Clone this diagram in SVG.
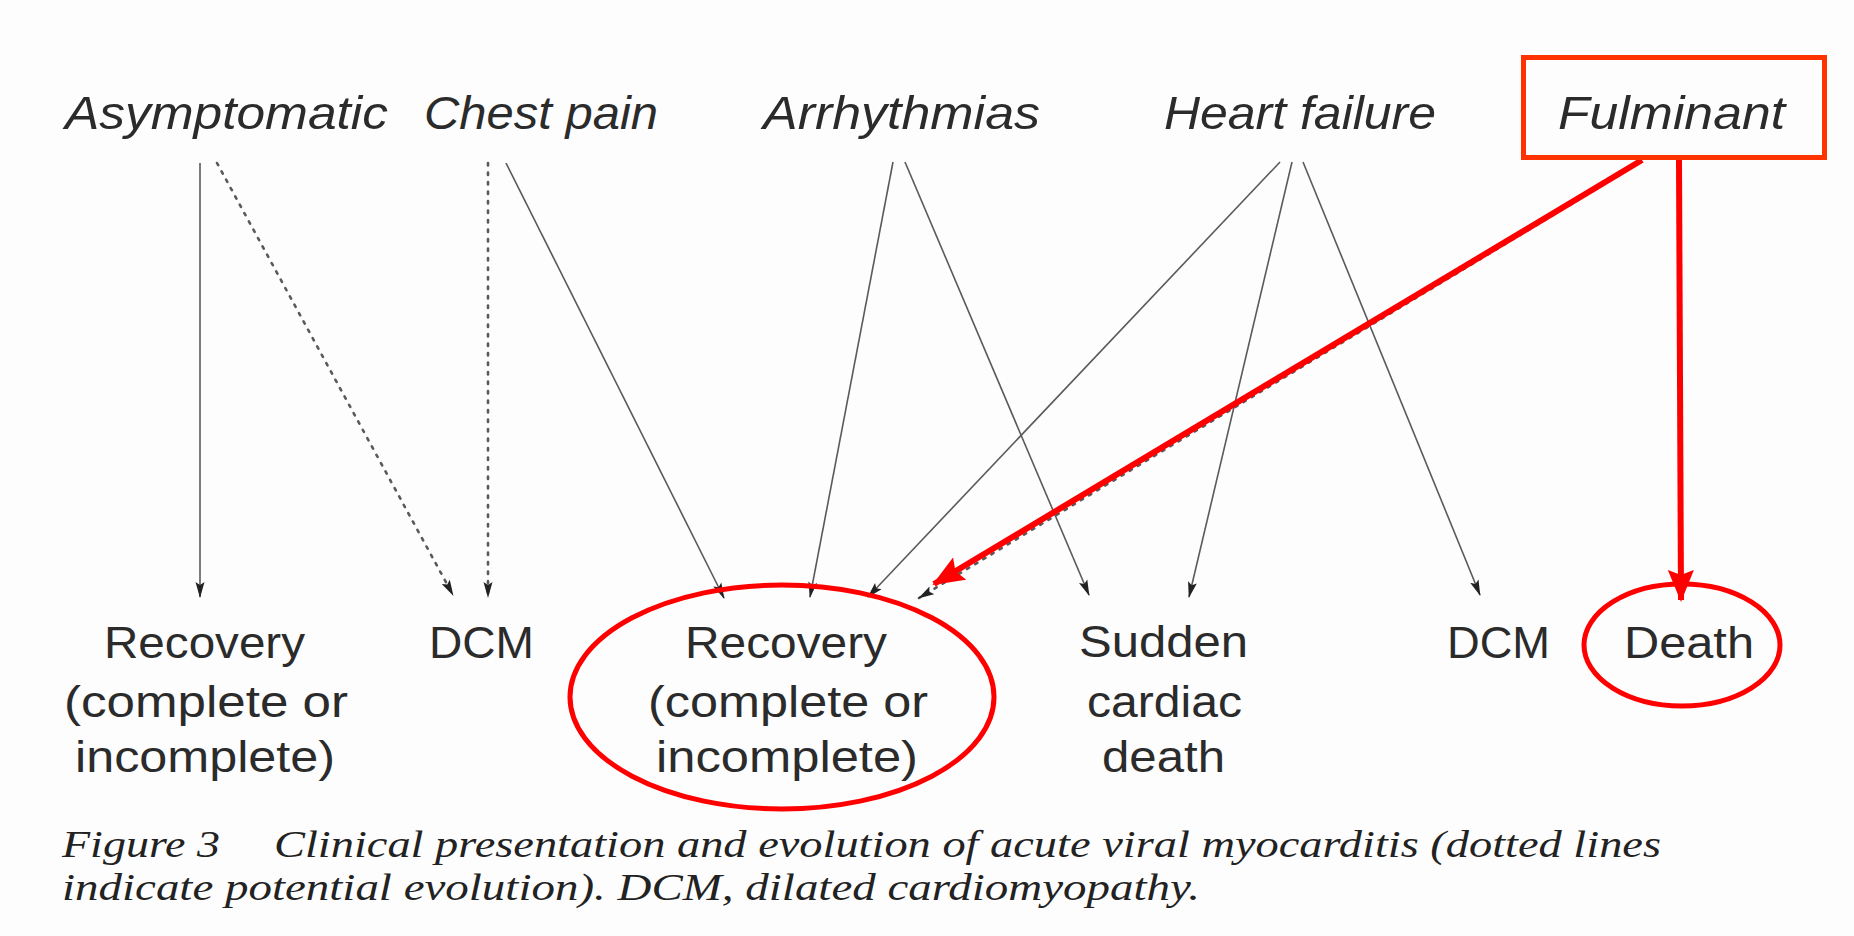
<svg xmlns="http://www.w3.org/2000/svg" width="1854" height="936" viewBox="0 0 1854 936">
  <style>
    .top { font-family: "Liberation Sans", Arial, sans-serif; font-style: italic; font-size: 47px; fill: #2b2b2b; }
    .bot { font-family: "Liberation Sans", Arial, sans-serif; font-size: 44px; fill: #2b2b2b; }
    .cap { font-family: "Liberation Serif", "Times New Roman", serif; font-style: italic; font-size: 38px; fill: #222; }
    .ln { stroke: #5a5a5a; stroke-width: 1.6; fill: none; marker-end: url(#ah); }
    .dot { stroke: #5a5a5a; stroke-width: 2.6; fill: none; stroke-dasharray: 2.5 7; stroke-linecap: round; marker-end: url(#ah); }
    .red { stroke: #ff0000; stroke-width: 6; fill: none; marker-end: url(#rah); }
  </style>
  <defs>
    <marker id="ah" markerUnits="userSpaceOnUse" markerWidth="16" markerHeight="10" refX="15" refY="5" orient="auto" viewBox="0 0 16 10">
      <path d="M0,0.5 L16,5 L0,9.5 L3,5 z" fill="#222"/>
    </marker>
    <marker id="rah" markerUnits="userSpaceOnUse" markerWidth="32" markerHeight="26" refX="30" refY="13" orient="auto" viewBox="0 0 32 26">
      <path d="M0,0 L32,13 L0,26 L5,13 z" fill="#ff0000"/>
    </marker>
  </defs>
  <rect width="1854" height="936" fill="#fdfdfd"/>

  <g id="connectors">
    <line class="ln" x1="200" y1="163" x2="200" y2="597"/>
    <line class="dot" x1="217" y1="163" x2="453" y2="595"/>
    <line class="dot" x1="488" y1="163" x2="488" y2="597"/>
    <line class="ln" x1="506" y1="163" x2="724" y2="598"/>
    <line class="ln" x1="893" y1="162" x2="810" y2="597"/>
    <line class="ln" x1="905" y1="162" x2="1089" y2="595"/>
    <line class="ln" x1="1280" y1="162" x2="868" y2="597"/>
    <line class="ln" x1="1292" y1="162" x2="1189" y2="597"/>
    <line class="ln" x1="1303" y1="162" x2="1480" y2="595"/>
    <line class="dot" x1="1636" y1="165" x2="919" y2="598"/>
    <line class="red" x1="1642" y1="160" x2="934" y2="584"/>
    <line class="red" x1="1679" y1="160" x2="1681" y2="600"/>
  </g>

  <g id="n-asymptomatic"><text class="top" x="65" y="129" textLength="323" lengthAdjust="spacingAndGlyphs">Asymptomatic</text></g>
  <g id="n-chestpain"><text class="top" x="424" y="129" textLength="234" lengthAdjust="spacingAndGlyphs">Chest pain</text></g>
  <g id="n-arrhythmias"><text class="top" x="763" y="129" textLength="277" lengthAdjust="spacingAndGlyphs">Arrhythmias</text></g>
  <g id="n-heartfailure"><text class="top" x="1164" y="129" textLength="272" lengthAdjust="spacingAndGlyphs">Heart failure</text></g>
  <g id="n-fulminant">
    <rect x="1523.5" y="57.5" width="301" height="100" fill="none" stroke="#ff3300" stroke-width="5"/>
    <text class="top" x="1558" y="129" textLength="227" lengthAdjust="spacingAndGlyphs">Fulminant</text>
  </g>

  <g id="n-recovery1">
    <text class="bot" x="104" y="658" textLength="201" lengthAdjust="spacingAndGlyphs">Recovery</text>
    <text class="bot" x="64" y="717" textLength="284" lengthAdjust="spacingAndGlyphs">(complete or</text>
    <text class="bot" x="75" y="772" textLength="260" lengthAdjust="spacingAndGlyphs">incomplete)</text>
  </g>
  <g id="n-dcm1"><text class="bot" x="429" y="658" textLength="105" lengthAdjust="spacingAndGlyphs">DCM</text></g>
  <g id="n-recovery2">
    <ellipse cx="782" cy="697" rx="212" ry="112" fill="none" stroke="#ff0000" stroke-width="5"/>
    <text class="bot" x="685" y="658" textLength="202" lengthAdjust="spacingAndGlyphs">Recovery</text>
    <text class="bot" x="648" y="717" textLength="280" lengthAdjust="spacingAndGlyphs">(complete or</text>
    <text class="bot" x="656" y="772" textLength="262" lengthAdjust="spacingAndGlyphs">incomplete)</text>
  </g>
  <g id="n-sudden">
    <text class="bot" x="1079" y="657" textLength="169" lengthAdjust="spacingAndGlyphs">Sudden</text>
    <text class="bot" x="1087" y="717" textLength="155" lengthAdjust="spacingAndGlyphs">cardiac</text>
    <text class="bot" x="1102" y="772" textLength="123" lengthAdjust="spacingAndGlyphs">death</text>
  </g>
  <g id="n-dcm2"><text class="bot" x="1447" y="658" textLength="103" lengthAdjust="spacingAndGlyphs">DCM</text></g>
  <g id="n-death">
    <ellipse cx="1682" cy="645" rx="98" ry="61" fill="none" stroke="#ff0000" stroke-width="5"/>
    <text class="bot" x="1624" y="658" textLength="130" lengthAdjust="spacingAndGlyphs">Death</text>
  </g>

  <g id="caption">
    <text class="cap" y="857"><tspan x="62" textLength="158" lengthAdjust="spacingAndGlyphs">Figure 3</tspan><tspan x="274" textLength="1387" lengthAdjust="spacingAndGlyphs">Clinical presentation and evolution of acute viral myocarditis (dotted lines</tspan></text>
    <text class="cap" x="62" y="900" textLength="1138" lengthAdjust="spacingAndGlyphs">indicate potential evolution). DCM, dilated cardiomyopathy.</text>
  </g>
</svg>
